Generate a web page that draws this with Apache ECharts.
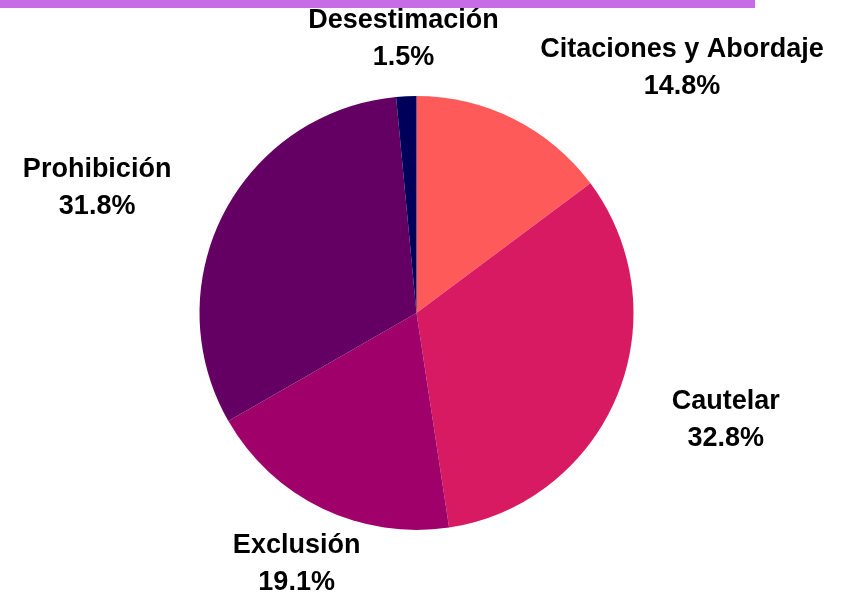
<!DOCTYPE html>
<html>
<head>
<meta charset="utf-8">
<style>
  html, body { margin: 0; padding: 0; background: #ffffff; }
  #chart { width: 848px; height: 596px; }
</style>
<script src="https://cdn.jsdelivr.net/npm/echarts@6/dist/echarts.min.js"></script>
</head>
<body>
<div id="chart"></div>
<script>
// ---- data ----
const categories = ['Citaciones y Abordaje', 'Cautelar', 'Exclusión', 'Prohibición', 'Desestimación'];
const values = [14.8, 32.8, 19.1, 31.8, 1.5];
const colors = ['#FF5A5A', '#D81A62', '#A0006A', '#640064', '#00005A'];

const total = values.reduce((a, b) => a + b, 0);
const cum = [];
values.reduce((acc, v, i) => { cum[i] = acc; return acc + v; }, 0);

const chart = echarts.init(document.getElementById('chart'), null, { renderer: 'canvas' });

chart.setOption({
  animation: false,
  backgroundColor: '#ffffff',
  graphic: [{
    type: 'rect',
    left: 0, top: 0,
    shape: { width: 755, height: 8 },
    style: { fill: '#C86BE6' },
    silent: true
  }],
  series: [{
    type: 'pie',
    center: [416.5, 313],
    radius: [0, 217],
    startAngle: 90,
    clockwise: true,
    avoidLabelOverlap: false,
    data: categories.map((c, i) => ({ name: c, value: values[i], itemStyle: { color: colors[i] } })),
    itemStyle: { borderWidth: 0 },
    emphasis: { disabled: true },
    label: {
      show: true,
      position: 'outside',
      distanceToLabelLine: 0,
      formatter: p => p.name + '\n' + p.value.toFixed(1) + '%',
      fontFamily: 'Liberation Sans',
      fontWeight: 'bold',
      fontSize: 27,
      lineHeight: 37,
      color: '#000000'
    },
    labelLine: { show: false, length: 59, length2: 0 },
    labelLayout: function (p) {
      const i = p.dataIndex;
      const mid = (cum[i] + values[i] / 2) / total * 2 * Math.PI;
      const dx = Math.sin(mid);
      const r = p.labelRect;
      let cx;
      if (Math.abs(dx) < 0.44) {
        // centre the block on the anchor point
        cx = p.align === 'left' ? r.x : (p.align === 'right' ? r.x + r.width : r.x + r.width / 2);
      } else {
        // keep block left/right of the anchor, but centre lines inside it
        cx = r.x + r.width / 2;
      }
      return { x: cx, y: r.y + r.height / 2 + 2, align: 'center', verticalAlign: 'middle' };
    }
  }]
});
</script>
</body>
</html>
